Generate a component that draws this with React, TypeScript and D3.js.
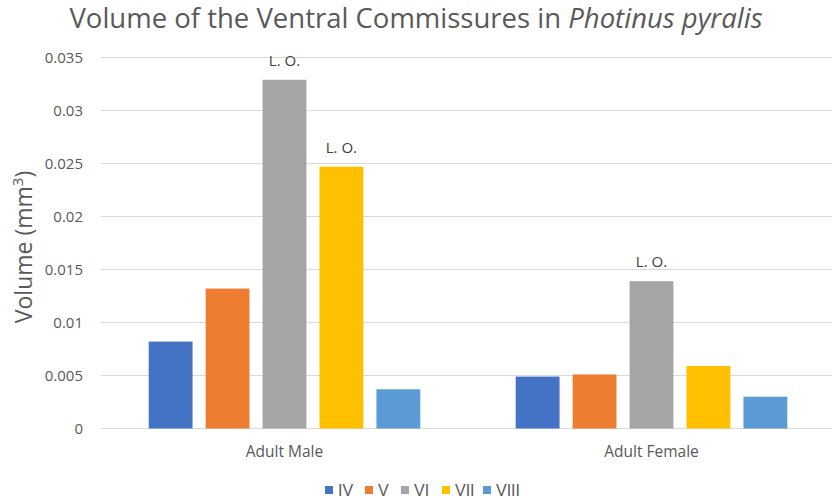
import React, { useEffect, useRef } from "react";
import * as d3 from "d3";

const categories = ["Adult Male", "Adult Female"];
const seriesNames = ["IV", "V", "VI", "VII", "VIII"];
const seriesColors = ["#4472C4", "#ED7D31", "#A5A5A5", "#FFC000", "#5B9BD5"];
// values per series, one entry per category
const valuesIV = [0.0082, 0.0049];
const valuesV = [0.0132, 0.0051];
const valuesVI = [0.0329, 0.0139];
const valuesVII = [0.0247, 0.0059];
const valuesVIII = [0.0037, 0.003];
// "L. O." marks: [category index, series index]
const loMarks: [number, number][] = [
  [0, 2],
  [0, 3],
  [1, 2],
];
const yTicks = [0, 0.005, 0.01, 0.015, 0.02, 0.025, 0.03, 0.035];

const W = 832;
const H = 504;

const App: React.FC = () => {
  const ref = useRef<SVGSVGElement | null>(null);

  useEffect(() => {
    const allValues = [valuesIV, valuesV, valuesVI, valuesVII, valuesVIII];
    const font = "'Open Sans', sans-serif";
    const plot = { left: 101, right: 835, top: 57.5, bottom: 428.5 };

    const svg = d3.select(ref.current);
    svg.selectAll("*").remove(); // clear

    const y = d3.scaleLinear().domain([0, 0.035]).range([plot.bottom, plot.top]);

    const x0 = d3
      .scaleBand<string>()
      .domain(categories)
      .range([plot.left, plot.right])
      .paddingInner(0.26)
      .paddingOuter(0.13);

    const x1 = d3
      .scaleBand<string>()
      .domain(seriesNames)
      .range([0, x0.bandwidth()])
      .paddingInner(0.23);

    // gridlines
    svg
      .append("g")
      .selectAll("line")
      .data(yTicks)
      .enter()
      .append("line")
      .attr("x1", plot.left)
      .attr("x2", W)
      .attr("y1", (d) => y(d))
      .attr("y2", (d) => y(d))
      .attr("stroke", "#d9d9d9")
      .attr("stroke-width", 1);

    // y tick labels
    svg
      .append("g")
      .selectAll("text")
      .data(yTicks)
      .enter()
      .append("text")
      .attr("x", 83)
      .attr("y", (d) => y(d))
      .attr("dy", "0.35em")
      .attr("text-anchor", "end")
      .attr("font-family", font)
      .attr("font-size", 15)
      .attr("fill", "#595959")
      .text((d) => String(d));

    // bars
    const groups = svg
      .append("g")
      .selectAll("g")
      .data(categories)
      .enter()
      .append("g")
      .attr("transform", (d) => `translate(${x0(d)},0)`);

    groups
      .selectAll("rect")
      .data((_, ci) => seriesNames.map((s, si) => ({ s, si, v: allValues[si][ci] })))
      .enter()
      .append("rect")
      .attr("x", (d) => x1(d.s)!)
      .attr("y", (d) => y(d.v))
      .attr("width", x1.bandwidth())
      .attr("height", (d) => y(0) - y(d.v))
      .attr("fill", (d) => seriesColors[d.si]);

    // L. O. labels
    svg
      .append("g")
      .selectAll("text")
      .data(loMarks)
      .enter()
      .append("text")
      .attr("x", (d) => x0(categories[d[0]])! + x1(seriesNames[d[1]])! + x1.bandwidth() / 2)
      .attr("y", (d) => y(allValues[d[1]][d[0]]) - 14)
      .attr("text-anchor", "middle")
      .attr("font-family", font)
      .attr("font-size", 15)
      .attr("fill", "#404040")
      .text("L. O.");

    // category labels
    svg
      .append("g")
      .selectAll("text")
      .data(categories)
      .enter()
      .append("text")
      .attr("x", (d) => x0(d)! + x0.bandwidth() / 2)
      .attr("y", 457)
      .attr("text-anchor", "middle")
      .attr("font-family", font)
      .attr("font-size", 15.5)
      .attr("fill", "#595959")
      .text((d) => d);

    // title
    const title = svg
      .append("text")
      .attr("x", 416)
      .attr("y", 28)
      .attr("text-anchor", "middle")
      .attr("font-family", font)
      .attr("font-size", 27.5)
      .attr("fill", "#595959");
    title.append("tspan").text("Volume of the Ventral Commissures in ");
    title.append("tspan").attr("font-style", "italic").text("Photinus pyralis");

    // y axis title
    const yl = svg
      .append("text")
      .attr("transform", `translate(32,247) rotate(-90)`)
      .attr("text-anchor", "middle")
      .attr("font-family", font)
      .attr("font-size", 23)
      .attr("fill", "#595959");
    yl.append("tspan").text("Volume (mm");
    yl.append("tspan").attr("font-size", 15).attr("dy", -9).text("3");
    yl.append("tspan").attr("dy", 9).text(")");

    // legend
    const legendX = [325, 365, 401, 442, 483];
    const legend = svg
      .append("g")
      .selectAll("g")
      .data(seriesNames)
      .enter()
      .append("g")
      .attr("transform", (_, i) => `translate(${legendX[i]},486)`);
    legend
      .append("rect")
      .attr("width", 8)
      .attr("height", 8)
      .attr("fill", (_, i) => seriesColors[i]);
    legend
      .append("text")
      .attr("x", 13)
      .attr("y", 4.5)
      .attr("dy", "0.35em")
      .attr("font-family", "'Liberation Sans', Arial, sans-serif")
      .attr("font-size", 16)
      .attr("fill", "#595959")
      .text((d) => d);
  }, []);

  return (
    <svg
      ref={ref}
      width={W}
      height={H}
      style={{ position: "absolute", left: 0, top: 0, background: "#fff" }}
    />
  );
};

export default App;
